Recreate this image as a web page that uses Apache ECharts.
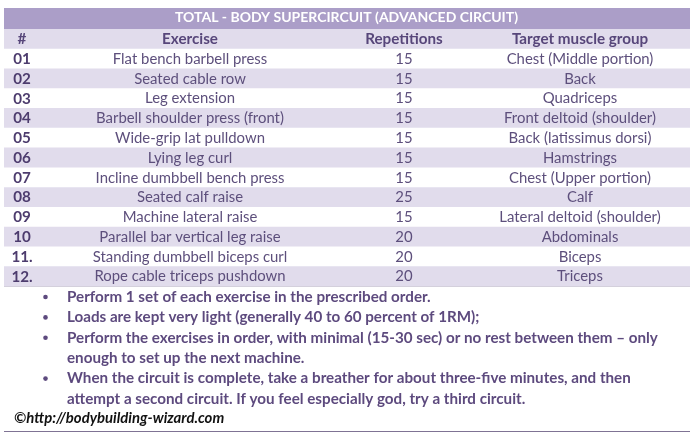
<!DOCTYPE html>
<html><head><meta charset="utf-8">
<script src="https://cdn.jsdelivr.net/npm/echarts@6/dist/echarts.min.js"></script>
<style>html,body{margin:0;padding:0;background:#fff}#c{width:693px;height:436px}</style>
</head><body><div id="c"></div>
<script>
const title = 'TOTAL - BODY SUPERCIRCUIT (ADVANCED CIRCUIT)';
const headers = ['#', 'Exercise', 'Repetitions', 'Target muscle group'];
const numbers = ['01','02','03','04','05','06','07','08','09','10','11.','12.'];
const exercises = [
  'Flat bench barbell press','Seated cable row','Leg extension','Barbell shoulder press (front)',
  'Wide-grip lat pulldown','Lying leg curl','Incline dumbbell bench press','Seated calf raise',
  'Machine lateral raise','Parallel bar vertical leg raise','Standing dumbbell biceps curl','Rope cable triceps pushdown'
];
const repetitions = [15,15,15,15,15,15,15,25,15,20,20,20];
const targets = [
  'Chest (Middle portion)','Back','Quadriceps','Front deltoid (shoulder)',
  'Back (latissimus dorsi)','Hamstrings','Chest (Upper portion)','Calf',
  'Lateral deltoid (shoulder)','Abdominals','Biceps','Triceps'
];
const notes = [
  ['Perform 1 set of each exercise in the prescribed order.'],
  ['Loads are kept very light (generally 40 to 60 percent of 1RM);'],
  ['Perform the exercises in order, with minimal (15-30 sec) or no rest between them \u2013 only', 'enough to set up the next machine.'],
  ['When the circuit is complete, take a breather for about three-five minutes, and then', 'attempt a second circuit. If you feel especially god, try a third circuit.']
];
const credit = '\u00A9http://bodybuilding-wizard.com';

const FONT = 'Lato';
const colX = [22, 190, 404, 580];
const rowCats = ['header'].concat(numbers);
const tableData = [[0, 0, null]].concat(repetitions.map((r, i) => [0, i + 1, r]));

const chart = echarts.init(document.getElementById('c'), null, {renderer: 'canvas'});

function renderItem(params, api) {
  const idx = api.value(1);
  const cs = params.coordSys;
  const h = api.size([0, 1])[1];
  const cy = api.coord([0, idx])[1];
  const children = [];
  if (idx % 2 === 0) {
    children.push({type: 'rect', shape: {x: cs.x, y: cy - h / 2, width: cs.width, height: h},
      style: {fill: '#e1dcec'}, silent: true});
  }
  const txt = (col, s, bold, color) => {
    const p = api.coord([colX[col], idx]);
    children.push({type: 'text', x: p[0], y: p[1] + 0.5, style: {text: s, align: 'center', verticalAlign: 'middle',
      font: (bold ? 'bold 15.2px ' : '14.9px ') + FONT, fill: color}});
  };
  if (idx === 0) {
    headers.forEach((s, i) => txt(i, s, true, '#57467a'));
  } else {
    const i = idx - 1;
    txt(0, numbers[i], true, '#4d3c6e');
    txt(1, exercises[i], false, '#5d4f7c');
    txt(2, String(api.value(2)), false, '#5d4f7c');
    txt(3, targets[i], false, '#5d4f7c');
  }
  return {type: 'group', children};
}

const graphics = [
  {type: 'rect', shape: {x: 4, y: 8, width: 686, height: 21}, style: {fill: '#ab9ec8'}, z: -1},
  {type: 'line', shape: {x1: 4, y1: 286.5, x2: 690, y2: 286.5}, style: {stroke: '#d4d0dc', lineWidth: 1}},
  {type: 'line', shape: {x1: 4, y1: 431.5, x2: 690, y2: 431.5}, style: {stroke: '#7f7394', lineWidth: 1.2}},
  {type: 'text', x: 14, y: 418, style: {text: credit, font: 'italic bold 14.9px ' + FONT, fill: '#111', verticalAlign: 'middle'}}
];
let ly = 297;
notes.forEach(note => {
  note.forEach((line, j) => {
    if (j === 0) graphics.push({type: 'circle', shape: {cx: 45.5, cy: ly, r: 2.3}, style: {fill: '#5d4a7e'}});
    graphics.push({type: 'text', x: 67, y: ly, style: {text: line, font: 'bold 15.2px ' + FONT, fill: '#5d4a7e', verticalAlign: 'middle'}});
    ly += 20.4;
  });
});

chart.setOption({
  animation: false,
  title: {text: title, left: 'center', top: 10.5, textStyle: {color: '#fff', fontFamily: FONT, fontWeight: 'bold', fontSize: 14}, padding: 0},
  grid: {left: 4, right: 3, top: 29, bottom: 150},
  xAxis: {type: 'value', min: 4, max: 690, show: false},
  yAxis: {type: 'category', data: rowCats, inverse: true, show: false},
  series: [{type: 'custom', renderItem, data: tableData, encode: {x: 0, y: 1}}],
  graphic: graphics
});
</script></body></html>
